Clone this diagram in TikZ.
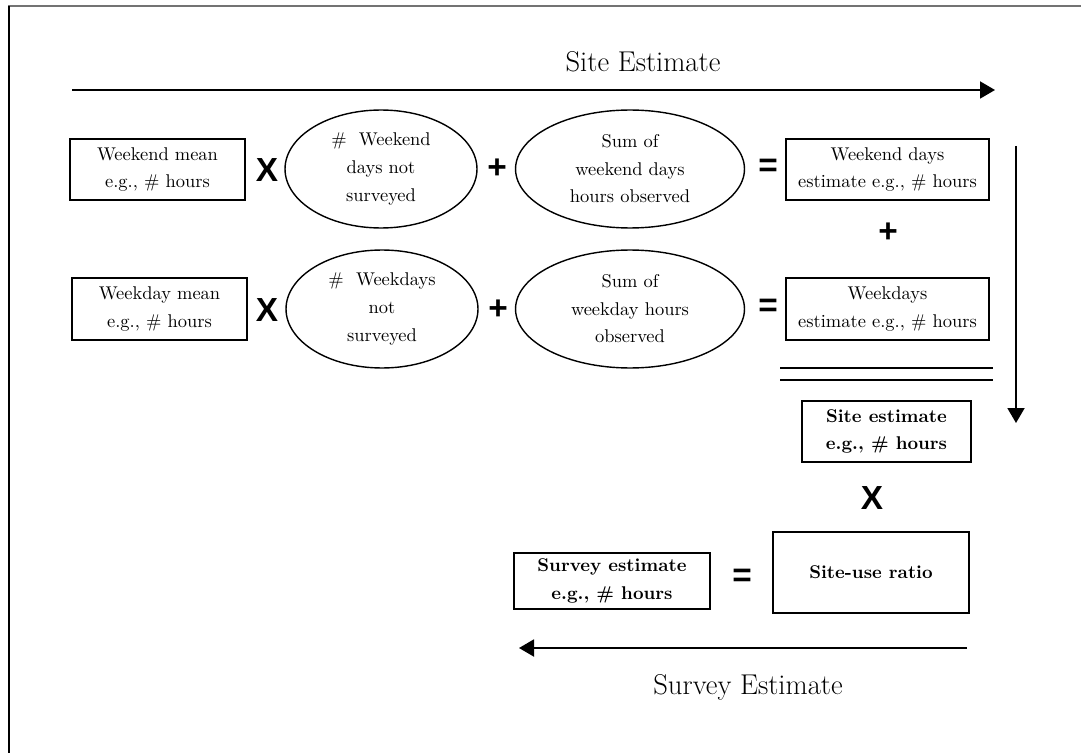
\documentclass[tikz,border=0pt]{standalone}
\usepackage{fontspec}
\newfontfamily\opfont{Liberation Sans}
\usetikzlibrary{positioning,
        shapes.geometric,
        arrows.meta}

\begin{document}
\begin{tikzpicture}[x=0.02cm,y=-0.02cm,
        box/.style={draw,line width=1pt,inner sep=0pt,align=center,font=\fontsize{10.5}{15.7}\selectfont},
        bbox/.style={box,font=\fontsize{10.5}{15.7}\selectfont\bfseries},
        oval/.style={ellipse,draw,line width=0.8pt,inner sep=0pt,align=center,font=\fontsize{10.5}{15.7}\selectfont},
        op/.style={inner sep=0pt,font=\fontsize{19}{19}\opfont\bfseries},
        flow/.style={-{Triangle[length=0.3cm,width=0.34cm]},line width=1.1pt},
        title/.style={font=\fontsize{16.3}{19}\selectfont}]
            \useasboundingbox (0,0) rectangle (1081,753);
            \draw [line width=1pt,black!55] (8,6) -- (1081,6);
            \draw [line width=1.2pt] (9,6) -- (9,753);

            \node [title] (SiteT) at (643,62) {Site Estimate};
            \coordinate (sa) at (72,90);
            \coordinate (sb) at (995,90);
            \draw [flow] (sa) -- (sb);

            \node [box,minimum width=3.5cm,minimum height=1.22cm] (WEmean) at (157.5,169.5) {Weekend mean\\e.g., \# hours};
            \node [op] (x1) at (267,170) {X};
            \node [oval,minimum width=3.84cm,minimum height=2.36cm] (WEnot) at (381,169) {\#\ \ Weekend\\days not\\surveyed};
            \node [op] (p1) at (497,169) {+};
            \node [oval,minimum width=4.58cm,minimum height=2.36cm] (WEsum) at (630,169) {Sum of\\weekend days\\hours observed};
            \node [op] (e1) at (768,168) {=};
            \node [box,minimum width=4.06cm,minimum height=1.22cm] (WEest) at (887.5,169.5) {Weekend days\\estimate e.g., \# hours};

            \node [op] (p3) at (888,233) {+};

            \node [box,minimum width=3.5cm,minimum height=1.24cm] (WDmean) at (159.5,309) {Weekday mean\\e.g., \# hours};
            \node [op] (x2) at (267,310) {X};
            \node [oval,minimum width=3.84cm,minimum height=2.36cm] (WDnot) at (382,309) {\#\ \ Weekdays\\not\\surveyed};
            \node [op] (p2) at (498,310) {+};
            \node [oval,minimum width=4.58cm,minimum height=2.36cm] (WDsum) at (630,309) {Sum of\\weekday hours\\observed};
            \node [op] (e2) at (768,308) {=};
            \node [box,minimum width=4.06cm,minimum height=1.24cm] (WDest) at (887.5,309) {Weekdays\\estimate e.g., \# hours};

            \coordinate (l1a) at (780,368);
            \coordinate (l1b) at (993,368);
            \coordinate (l2a) at (780,380);
            \coordinate (l2b) at (993,380);
            \draw [line width=1pt] (l1a) -- (l1b);
            \draw [line width=1pt] (l2a) -- (l2b);

            \node [bbox,minimum width=3.38cm,minimum height=1.22cm] (SiteEst) at (886.5,431.5) {Site estimate\\e.g., \# hours};
            \coordinate (va) at (1016,146);
            \coordinate (vb) at (1016,423);
            \draw [flow] (va) -- (vb);

            \node [op] (x3) at (872,498) {X};
            \node [bbox,minimum width=3.92cm,minimum height=1.62cm] (Ratio) at (871,572.5) {Site-use ratio};
            \node [op] (e3) at (742,578) {=};
            \node [bbox,minimum width=3.92cm,minimum height=1.12cm] (SurvEst) at (612,581) {Survey estimate\\e.g., \# hours};

            \coordinate (ba) at (967,648);
            \coordinate (bb) at (519,648);
            \draw [flow] (ba) -- (bb);
            \node [title] (SurvT) at (748,687) {Survey Estimate};
        \end{tikzpicture}
\end{document}
